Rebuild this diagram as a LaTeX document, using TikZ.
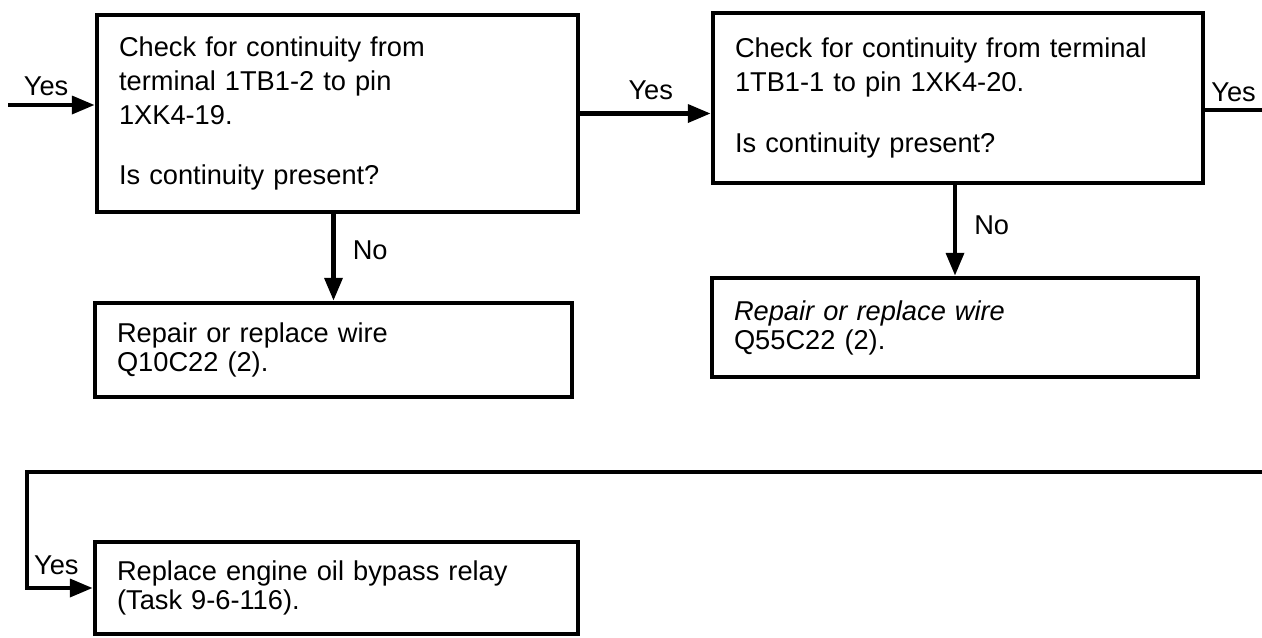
\documentclass[tikz,border=0pt]{standalone}
\usepackage{fontspec}
\setmainfont{Liberation Sans}
\usetikzlibrary{arrows.meta,positioning}
\tikzstyle{qbox}=[draw, line width=2.6pt, align=left, inner xsep=0.44cm, font=\fontsize{15.5}{19.3}\selectfont]
\tikzstyle{abox}=[draw, line width=2.6pt, align=left, inner xsep=0.44cm, font=\fontsize{15.5}{16.5}\selectfont]
\tikzstyle{flow}=[line width=2.6pt, -{Triangle[length=13pt,width=10pt]}]
\tikzstyle{wire}=[line width=2.6pt]
\tikzstyle{lbl}=[inner sep=0pt, font=\fontsize{15.5}{18}\selectfont]

\begin{document}
\begin{tikzpicture}[x=0.02cm, y=-0.02cm]
\useasboundingbox (0,0) rectangle (1262,637);
\node at (337.5,113.5)[qbox, minimum width=9.62cm, minimum height=3.94cm, text width=8.74cm](chkA){Check for continuity from\\terminal 1TB1-2 to pin\\1XK4-19.\\[15pt]Is continuity present?};
\node at (958,98)[qbox, minimum width=9.8cm, minimum height=3.4cm, text width=8.92cm](chkC){Check for continuity from terminal\\1TB1-1 to pin 1XK4-20.\\[15pt]Is continuity present?};
\node at (333.5,350)[abox, minimum width=9.54cm, minimum height=1.88cm, text width=8.66cm](fixA){Repair or replace wire\\Q10C22 (2).};
\node at (955,327.5)[abox, minimum width=9.72cm, minimum height=1.98cm, text width=8.84cm](fixC){\textit{Repair or replace wire}\\Q55C22 (2).};
\node at (336.5,588)[abox, minimum width=9.66cm, minimum height=1.84cm, text width=8.78cm](relay){Replace engine oil bypass relay\\(Task 9-6-116).};
\coordinate (in) at (8,105);
\coordinate (out) at (1262,110);
\coordinate (back) at (1262,472);
\coordinate (turn) at (27,472);
\draw[flow] (in) -- node[lbl, above=4pt, xshift=-3pt]{Yes} (in -| chkA.west);
\draw[flow] (chkA.east) -- node[lbl, above=6.8pt, xshift=3pt]{Yes} (chkA.east -| chkC.west);
\draw[wire] (out -| chkC.east) -- node[lbl, above=3.4pt]{Yes} (out);
\draw[flow] (chkA.south -| fixA.north) -- node[lbl, right=0.34cm, yshift=4pt]{No} (fixA.north);
\draw[flow] (chkC.south -| fixC.north) -- node[lbl, right=0.34cm, yshift=3pt]{No} (fixC.north);
\draw[flow] (back) -- (turn) |- node[pos=0.75, lbl, above=6.5pt, xshift=-2pt]{Yes} (relay.west);
\end{tikzpicture}
\end{document}
